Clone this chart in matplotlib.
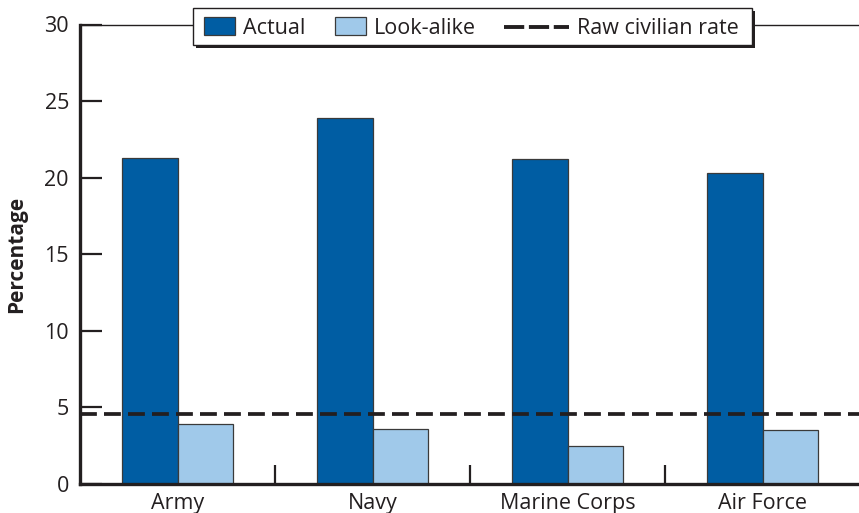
import matplotlib
matplotlib.use("Agg")
import matplotlib.pyplot as plt
from matplotlib.patches import Rectangle
from matplotlib.lines import Line2D
import numpy as np

categories = ["Army", "Navy", "Marine Corps", "Air Force"]
actual = [21.3, 23.9, 21.2, 20.3]
look_alike = [3.9, 3.6, 2.5, 3.5]
civilian_rate = 4.6
yticks = [0, 5, 10, 15, 20, 25, 30]
legend_labels = ["Actual", "Look-alike", "Raw civilian rate"]

plt.rcParams['font.family'] = ['Open Sans', 'DejaVu Sans']
dark = "#005DA3"
light = "#A0C9EA"
edge = "#3a3a3a"
ink = "#231f20"

W, H = 859, 513
fig = plt.figure(figsize=(W/100, H/100), dpi=100)
ax = fig.add_axes([80/W, 1-484/H, 780/W, (484-24.5)/H])

x = np.arange(len(categories))
w = 0.287
ax.bar(x - w/2, actual, width=w, color=dark, edgecolor=edge, linewidth=0.9, zorder=2)
ax.bar(x + w/2, look_alike, width=w, color=light, edgecolor=edge, linewidth=0.9, zorder=2)
ax.axhline(civilian_rate, color=ink, linewidth=2.7, linestyle=(0, (4.5, 1.9)), zorder=3)

ax.set_xlim(-0.5, 3.5)
ax.set_ylim(0, 30)
ax.set_yticks(yticks)
ax.set_yticklabels([str(v) for v in yticks], fontsize=15.5, color=ink)
ax.set_xticks(x)
ax.set_xticklabels(categories, fontsize=15.5, color=ink)
ax.set_xticks([0.5, 1.5, 2.5], minor=True)
ax.tick_params(axis='x', which='major', length=0, pad=6.5)
ax.tick_params(axis='x', which='minor', direction='in', length=14, width=1.6, color=ink)
ax.tick_params(axis='y', which='major', direction='in', length=16, width=1.6, color=ink, pad=8)

for s in ['left', 'bottom']:
    ax.spines[s].set_linewidth(2.4)
    ax.spines[s].set_color(ink)
ax.spines['top'].set_linewidth(1.0)
ax.spines['top'].set_color(ink)
ax.spines['right'].set_visible(False)

ax.set_ylabel("Percentage", fontsize=15, fontweight='bold', color=ink)
ax.yaxis.set_label_coords(-0.068, 0.5)

# Legend drawn in figure pixel coordinates (top-left origin)
def fx(px):
    return px / W

def fy(py):
    return 1 - py / H

tf = fig.transFigure
fig.add_artist(Rectangle((fx(196), fy(48)), fx(752) - fx(193), fy(8) - fy(45),
                         transform=tf, facecolor=ink, edgecolor='none', zorder=10))
fig.add_artist(Rectangle((fx(193), fy(45)), fx(752) - fx(193), fy(8) - fy(45),
                         transform=tf, facecolor='white', edgecolor=ink, linewidth=1.0, zorder=11))
fig.add_artist(Rectangle((fx(204), fy(35)), fx(235) - fx(204), fy(17) - fy(35),
                         transform=tf, facecolor=dark, edgecolor=edge, linewidth=0.9, zorder=12))
fig.add_artist(Rectangle((fx(335), fy(35)), fx(366) - fx(335), fy(17) - fy(35),
                         transform=tf, facecolor=light, edgecolor=edge, linewidth=0.9, zorder=12))
fig.add_artist(Line2D([fx(504), fx(569)], [fy(26.5), fy(26.5)], transform=tf, color=ink,
                      linewidth=2.8, linestyle=(0, (5.2, 1.2)), zorder=12))
for lx, lab in zip([243, 374, 577], legend_labels):
    fig.text(fx(lx), fy(33.5), lab, fontsize=15.5, color=ink, ha='left', va='baseline', zorder=13)

fig.savefig("out.png", dpi=100)
